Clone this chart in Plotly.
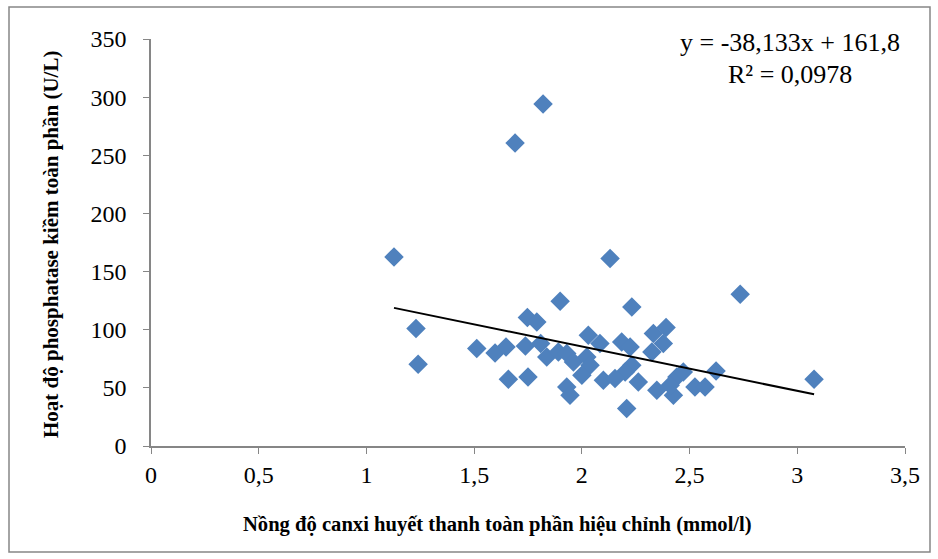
import plotly.graph_objects as go

# Data
calcium = [1.128, 1.230, 1.240, 1.690, 1.820, 1.512, 1.597, 1.648, 1.659, 1.750,
           1.747, 1.791, 1.738, 1.899, 1.809, 1.837, 1.891, 1.930, 1.961, 1.930,
           1.945, 2.131, 2.735, 2.232, 2.030, 2.084, 2.185, 2.224, 2.332, 2.391,
           2.378, 2.325, 2.023, 2.038, 2.000, 2.232, 2.201, 2.100, 2.154, 2.262,
           2.348, 2.425, 2.441, 2.471, 2.525, 2.572, 2.623, 2.208, 2.410, 3.078]
alp = [162.6, 101.0, 70.3, 260.5, 294.1, 83.8, 80.0, 85.2, 57.4, 59.4,
       110.5, 106.7, 86.1, 124.5, 88.1, 76.6, 80.9, 79.5, 72.3, 50.8,
       43.6, 161.3, 130.5, 119.6, 95.3, 88.1, 89.5, 85.2, 96.7, 101.9,
       88.1, 80.9, 76.6, 69.4, 60.8, 69.4, 63.7, 56.5, 58.0, 55.1,
       47.9, 43.6, 59.4, 63.7, 50.8, 50.8, 64.5, 32.2, 52.2, 57.4]

slope = -38.133
intercept = 161.8
equation_lines = ["y = -38,133x + 161,8", "R² = 0,0978"]

x_ticks = [0, 0.5, 1, 1.5, 2, 2.5, 3, 3.5]
x_tick_text = ["0", "0,5", "1", "1,5", "2", "2,5", "3", "3,5"]
y_ticks = [0, 50, 100, 150, 200, 250, 300, 350]
y_tick_text = ["0", "50", "100", "150", "200", "250", "300", "350"]

x_title = "Nồng độ canxi huyết thanh toàn phần hiệu chỉnh (mmol/l)"
y_title = "Hoạt độ phosphatase kiềm toàn phần (U/L)"

FONT = "Liberation Serif"
AXIS_GRAY = "#868686"

xmin, xmax = min(calcium), max(calcium)
trend_x = [xmin, xmax]
trend_y = [slope * v + intercept for v in trend_x]

fig = go.Figure()
fig.add_trace(go.Scatter(
    x=calcium, y=alp, mode="markers",
    marker=dict(symbol="diamond", size=15, color="#4F81BD", line=dict(width=0)),
    showlegend=False, hoverinfo="x+y"))
fig.add_trace(go.Scatter(
    x=trend_x, y=trend_y, mode="lines",
    line=dict(color="black", width=2), showlegend=False, hoverinfo="skip"))

fig.update_layout(
    width=938, height=559,
    margin=dict(l=151, r=33, t=39, b=113),
    paper_bgcolor="white", plot_bgcolor="white",
    font=dict(family=FONT, color="black"),
    xaxis=dict(range=[0, 3.5], tickvals=x_ticks, ticktext=x_tick_text,
               showgrid=False, zeroline=False, showline=True, linecolor=AXIS_GRAY,
               linewidth=1.5, ticks="outside", ticklen=6, tickcolor=AXIS_GRAY,
               ticklabelstandoff=0,
               tickfont=dict(family=FONT, size=24, color="black")),
    yaxis=dict(range=[0, 350], tickvals=y_ticks, ticktext=y_tick_text,
               showgrid=False, zeroline=False, showline=True, linecolor=AXIS_GRAY,
               linewidth=1.5, ticks="outside", ticklen=6, tickcolor=AXIS_GRAY,
               ticklabelstandoff=12,
               tickfont=dict(family=FONT, size=24, color="black")),
    shapes=[dict(type="rect", xref="paper", yref="paper",
                 x0=-142/754, x1=1 + 25/754, y0=-106/407, y1=1 + 32/407,
                 line=dict(color=AXIS_GRAY, width=1.5), fillcolor="rgba(0,0,0,0)")],
    annotations=[
        dict(text="<b>" + x_title + "</b>", xref="paper", yref="paper", x=(497-151)/754, y=-(524-446)/407,
             xanchor="center", yanchor="middle", showarrow=False,
             font=dict(family=FONT, size=20.6, color="black")),
        dict(text="<b>" + y_title + "</b>", xref="paper", yref="paper", x=-(151-51)/754, y=(446-245)/407,
             xanchor="center", yanchor="middle", showarrow=False, textangle=-90,
             font=dict(family=FONT, size=21, color="black")),
        dict(text=equation_lines[0], xref="paper", yref="paper", x=(790-151)/754,
             y=(446-42)/407, xanchor="center", yanchor="middle", showarrow=False,
             font=dict(family=FONT, size=26, color="black")),
        dict(text=equation_lines[1], xref="paper", yref="paper", x=(790-151)/754,
             y=(446-75)/407, xanchor="center", yanchor="middle", showarrow=False,
             font=dict(family=FONT, size=26, color="black")),
    ],
)

fig.write_html("out.html")
